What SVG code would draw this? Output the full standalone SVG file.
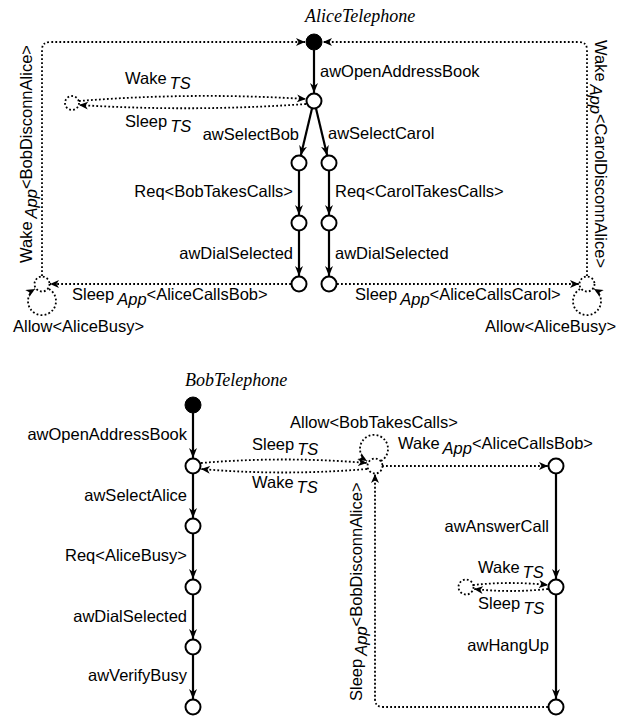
<svg xmlns="http://www.w3.org/2000/svg" width="625" height="716" viewBox="0 0 625 716">
<style>
.n{fill:#fff;stroke:#000;stroke-width:2}
.f{fill:#000;stroke:#000;stroke-width:1}
.d{fill:none;stroke:#000;stroke-width:1.8;stroke-dasharray:1.8 2.2}
.e{fill:none;stroke:#000;stroke-width:2.2;marker-end:url(#ah)}
.de{fill:none;stroke:#000;stroke-width:1.8;stroke-dasharray:1.8 2.2;marker-end:url(#dh)}
text{font-family:"Liberation Sans",Arial,sans-serif;font-size:16.5px;fill:#000}
.ti{font-family:"Liberation Serif","Times New Roman",serif;font-style:italic;font-size:18px}
.i{font-style:italic}
.end{text-anchor:end}
</style>
<defs>
<marker id="ah" viewBox="0 0 10 8" refX="10" refY="4" markerWidth="10" markerHeight="8" orient="auto" markerUnits="userSpaceOnUse"><path d="M0,0 L10,4 L0,8 L3,4 z" fill="#000"/></marker>
<marker id="dh" viewBox="0 0 9 8" refX="9" refY="4" markerWidth="9" markerHeight="8" orient="auto" markerUnits="userSpaceOnUse"><path d="M0,0 L9,4 L0,8 L2.5,4 z" fill="#000"/></marker>
</defs>

<g id="connectors">
<!-- Alice -->
<path class="e" d="M314,50 L314,93"/>
<path class="e" d="M312,108.5 L300.8,155.5"/>
<path class="e" d="M316,108.5 L327.2,155.5"/>
<path class="e" d="M299,171 L299,215"/>
<path class="e" d="M299,231 L299,276"/>
<path class="e" d="M329,171 L329,215"/>
<path class="e" d="M329,231 L329,276"/>
<path class="de" d="M42,276 L42,50 Q42,42 50,42 L305,42"/>
<path class="de" d="M587,276 L587,50 Q587,42 579,42 L323,42"/>
<path class="de" d="M291,284 L50,284"/>
<path class="de" d="M337,284 L579,284"/>
<path class="de" d="M49,289 A14,14 0 1 1 35,289"/>
<path class="de" d="M580,289 A14,14 0 1 0 594,289"/>
<path class="de" d="M79,101 Q192,92 306,99"/>
<path class="de" d="M306,104 Q192,112 79,105"/>
<!-- Bob -->
<path class="e" d="M193,413 L193,458"/>
<path class="e" d="M193,474 L193,518"/>
<path class="e" d="M193,534 L193,579"/>
<path class="e" d="M193,595 L193,639"/>
<path class="e" d="M193,655 L193,699"/>
<path class="de" d="M201,463 Q284,456 367,463"/>
<path class="de" d="M367,469 Q284,476 201,469"/>
<path class="de" d="M381,461 A14,14 0 1 0 367,461"/>
<path class="de" d="M382,466 L548,466"/>
<path class="e" d="M556,474 L556,579"/>
<path class="e" d="M556,595 L556,699"/>
<path class="de" d="M548,707 L383,707 Q375,707 375,699 L375,474"/>
<path class="de" d="M473,585 Q510,581 548,585"/>
<path class="de" d="M548,589 Q510,593 474,589"/>
</g>

<g id="AliceTelephone"><text class="ti" x="305" y="22">AliceTelephone</text></g>
<g id="a0"><circle class="f" cx="314" cy="42" r="8"/></g>
<g id="a1"><circle class="n" cx="314" cy="101" r="7.5"/></g>
<g id="aTS"><circle class="d" cx="72" cy="103" r="7"/></g>
<g id="b1"><circle class="n" cx="299" cy="163" r="7.5"/></g>
<g id="b2"><circle class="n" cx="299" cy="223" r="7.5"/></g>
<g id="b3"><circle class="n" cx="299" cy="284" r="7.5"/></g>
<g id="c1"><circle class="n" cx="329" cy="163" r="7.5"/></g>
<g id="c2"><circle class="n" cx="329" cy="223" r="7.5"/></g>
<g id="c3"><circle class="n" cx="329" cy="284" r="7.5"/></g>
<g id="aL"><circle class="d" cx="42" cy="284" r="7.5"/></g>
<g id="aR"><circle class="d" cx="587" cy="284" r="7.5"/></g>

<g id="BobTelephone"><text class="ti" x="185" y="386">BobTelephone</text></g>
<g id="p0"><circle class="f" cx="193" cy="405" r="8"/></g>
<g id="p1"><circle class="n" cx="193" cy="466" r="7.5"/></g>
<g id="p2"><circle class="n" cx="193" cy="526" r="7.5"/></g>
<g id="p3"><circle class="n" cx="193" cy="587" r="7.5"/></g>
<g id="p4"><circle class="n" cx="193" cy="647" r="7.5"/></g>
<g id="p5"><circle class="n" cx="193" cy="707" r="7.5"/></g>
<g id="m"><circle class="d" cx="375" cy="466" r="7.5"/></g>
<g id="q1"><circle class="n" cx="556" cy="466" r="7.5"/></g>
<g id="q2"><circle class="n" cx="556" cy="587" r="7.5"/></g>
<g id="q3"><circle class="n" cx="556" cy="707" r="7.5"/></g>
<g id="qTS"><circle class="d" cx="466" cy="587" r="7.5"/></g>

<g id="labels">
<text x="320" y="77">awOpenAddressBook</text>
<text class="end" x="299" y="140">awSelectBob</text>
<text x="328" y="139">awSelectCarol</text>
<text class="end" x="293" y="197">Req&lt;BobTakesCalls&gt;</text>
<text x="335" y="197">Req&lt;CarolTakesCalls&gt;</text>
<text class="end" x="293" y="259">awDialSelected</text>
<text x="335" y="259">awDialSelected</text>
<text x="125" y="84">Wake<tspan class="i" dx="3" dy="5">TS</tspan></text>
<text x="125" y="127">Sleep<tspan class="i" dx="3" dy="5">TS</tspan></text>
<text x="72" y="300">Sleep<tspan class="i" dx="3" dy="5">App</tspan><tspan dy="-5">&lt;AliceCallsBob&gt;</tspan></text>
<text x="355" y="300">Sleep<tspan class="i" dx="3" dy="5">App</tspan><tspan dy="-5">&lt;AliceCallsCarol&gt;</tspan></text>
<text x="13" y="332">Allow&lt;AliceBusy&gt;</text>
<text x="485" y="332">Allow&lt;AliceBusy&gt;</text>
<text transform="translate(32,263) rotate(-90)">Wake<tspan class="i" dx="3" dy="5">App</tspan><tspan dy="-5">&lt;BobDisconnAlice&gt;</tspan></text>
<text transform="translate(595,40) rotate(90)">Wake<tspan class="i" dx="3" dy="5">App</tspan><tspan dy="-5">&lt;CarolDisconnAlice&gt;</tspan></text>

<text class="end" x="187" y="440">awOpenAddressBook</text>
<text class="end" x="187" y="501">awSelectAlice</text>
<text class="end" x="187" y="561">Req&lt;AliceBusy&gt;</text>
<text class="end" x="187" y="622">awDialSelected</text>
<text class="end" x="187" y="681">awVerifyBusy</text>
<text x="252" y="450">Sleep<tspan class="i" dx="3" dy="5">TS</tspan></text>
<text x="252" y="488">Wake<tspan class="i" dx="3" dy="5">TS</tspan></text>
<text x="290" y="428">Allow&lt;BobTakesCalls&gt;</text>
<text x="398" y="449">Wake<tspan class="i" dx="3" dy="5">App</tspan><tspan dy="-5">&lt;AliceCallsBob&gt;</tspan></text>
<text class="end" x="549" y="532">awAnswerCall</text>
<text x="478" y="573">Wake<tspan class="i" dx="3" dy="5">TS</tspan></text>
<text x="478" y="609">Sleep<tspan class="i" dx="3" dy="5">TS</tspan></text>
<text class="end" x="549" y="651">awHangUp</text>
<text transform="translate(362,701) rotate(-90)">Sleep<tspan class="i" dx="3" dy="5">App</tspan><tspan dy="-5">&lt;BobDisconnAlice&gt;</tspan></text>
</g>
</svg>
